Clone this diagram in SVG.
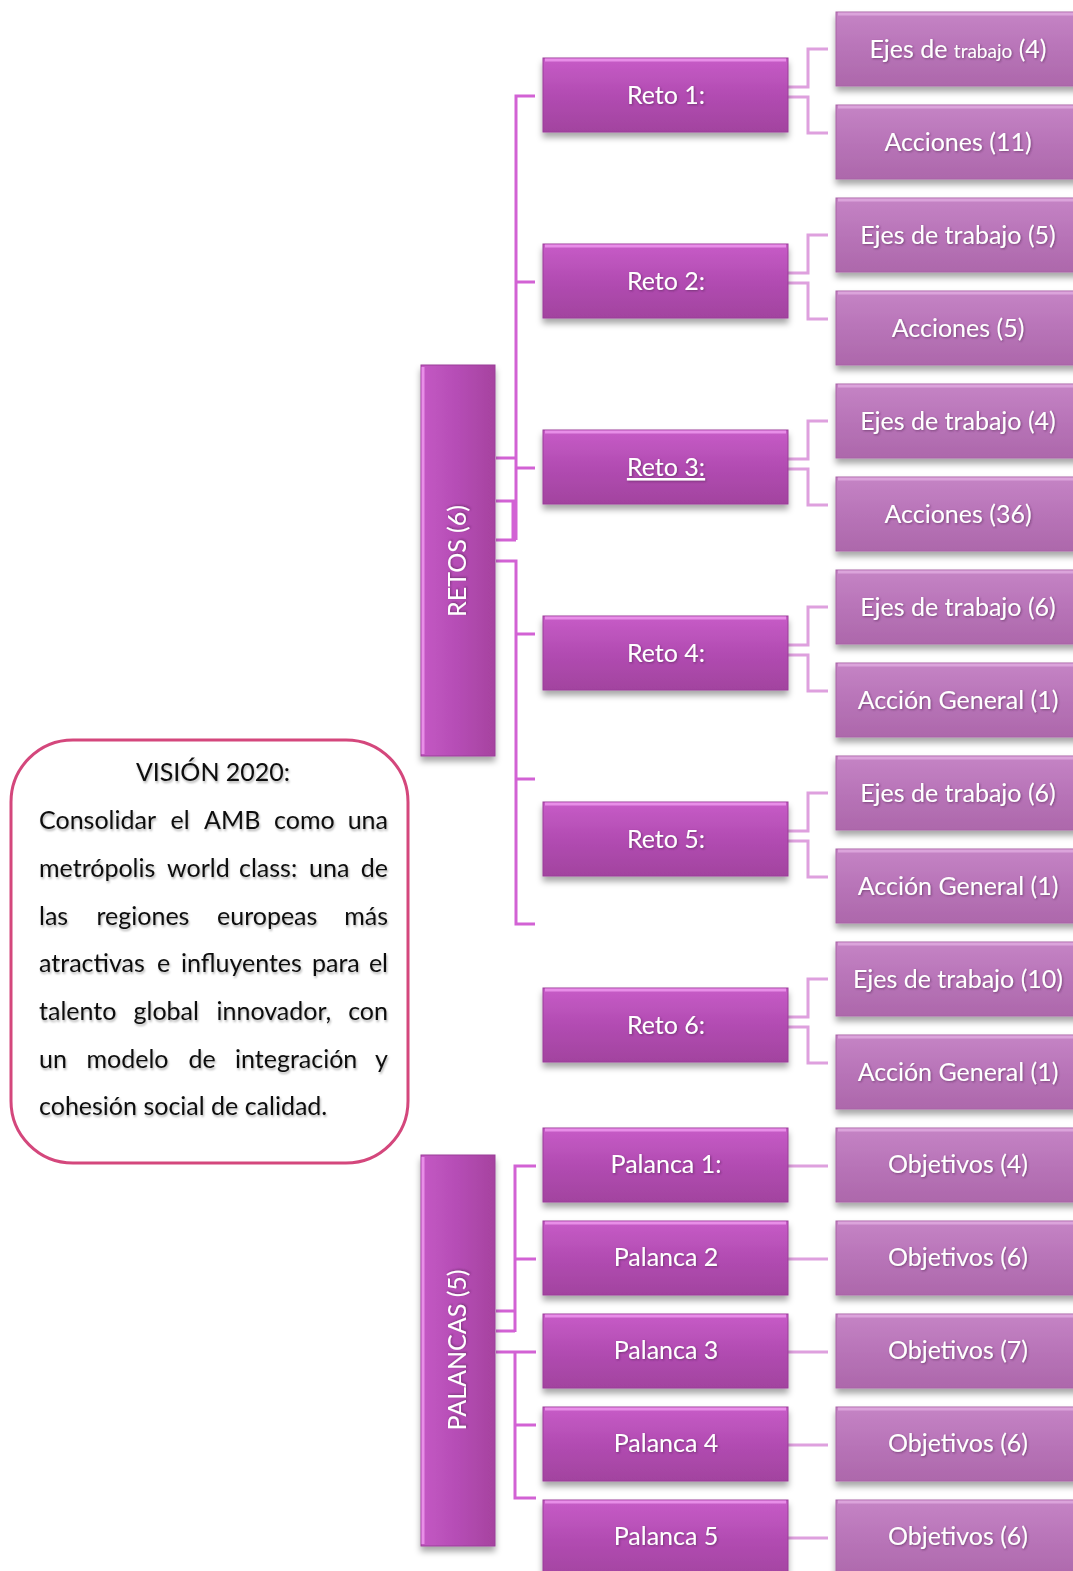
<svg xmlns="http://www.w3.org/2000/svg" width="1073" height="1571" viewBox="0 0 1073 1571">
  <defs>
    <linearGradient id="gDark" x1="0" y1="0" x2="0" y2="1">
      <stop offset="0" stop-color="#c75cc7"/>
      <stop offset="0.5" stop-color="#b24cb2"/>
      <stop offset="1" stop-color="#a2439f"/>
    </linearGradient>
    <linearGradient id="gBar" x1="0" y1="0" x2="1" y2="0">
      <stop offset="0" stop-color="#c458c4"/>
      <stop offset="0.5" stop-color="#b54db5"/>
      <stop offset="1" stop-color="#a6429f"/>
    </linearGradient>
    <linearGradient id="gLight" x1="0" y1="0" x2="0" y2="1">
      <stop offset="0" stop-color="#c584c5"/>
      <stop offset="0.5" stop-color="#b874b8"/>
      <stop offset="1" stop-color="#ad68ab"/>
    </linearGradient>
    <filter id="shadow" x="-10%" y="-20%" width="120%" height="150%">
      <feDropShadow dx="0" dy="5" stdDeviation="3" flood-color="#000" flood-opacity="0.35"/>
    </filter>
    <filter id="tshadow" x="-10%" y="-30%" width="120%" height="160%">
      <feDropShadow dx="1" dy="1" stdDeviation="1" flood-color="#4a1a4a" flood-opacity="0.55"/>
    </filter>
    <filter id="bshadow" x="-10%" y="-30%" width="120%" height="160%">
      <feDropShadow dx="1" dy="2" stdDeviation="1.2" flood-color="#000" flood-opacity="0.3"/>
    </filter>
  </defs>
  <style>
    .dark { fill: url(#gDark); stroke: #9a3c98; stroke-width: 1; filter: url(#shadow); }
    .bar { fill: url(#gBar); stroke: #9a3c98; stroke-width: 1; filter: url(#shadow); }
    .light { fill: url(#gLight); stroke: #a862a6; stroke-width: 1; filter: url(#shadow); }
    .hiD { stroke: #e88ee8; stroke-width: 3; fill: none; }
    .hiL { stroke: #dba4db; stroke-width: 3; fill: none; }
    .lbl { font-family: Lato, "Open Sans", "Liberation Sans", sans-serif; font-size: 25px; fill: #ffffff; text-anchor: middle; filter: url(#tshadow); }
    .vis { font-family: Lato, "Open Sans", "Liberation Sans", sans-serif; font-size: 25px; fill: #111111; filter: url(#bshadow); }
    .cL { stroke: #d262d4; stroke-width: 3; fill: none; }
    .cR { stroke: #dea0de; stroke-width: 3; fill: none; }
  </style>

  <rect width="1073" height="1571" fill="#ffffff"/>

  <!-- connectors -->
  <g id="connectors">
    <!-- RETOS, upper bracket -->
    <path class="cL" d="M535,96 H516 V540 M516,282 H535 M516,468 H535 M496,458 H516 M496,501 H513 V540 M496,540 H516"/>
    <!-- RETOS, lower bracket -->
    <path class="cL" d="M496,561 H516 V924 H535 M516,634 H535 M516,779 H535"/>
    <!-- PALANCAS brackets -->
    <path class="cL" d="M536,1166 H515 V1332 M515,1259 H536 M496,1311 H515 M496,1331 H515"/>
    <path class="cL" d="M496,1352 H536 M515,1352 V1498 H536 M515,1425 H536"/>
    <!-- reto -> ejes / acciones -->
    <path class="cR" d="M788,87 H808 V49 H828 M788,97 H808 V133 H828"/>
    <path class="cR" d="M788,273 H808 V235 H828 M788,283 H808 V319 H828"/>
    <path class="cR" d="M788,459 H808 V421 H828 M788,469 H808 V505 H828"/>
    <path class="cR" d="M788,645 H808 V607 H828 M788,655 H808 V691 H828"/>
    <path class="cR" d="M788,831 H808 V793 H828 M788,841 H808 V877 H828"/>
    <path class="cR" d="M788,1017 H808 V979 H828 M788,1027 H808 V1063 H828"/>
    <!-- palanca -> objetivos -->
    <path class="cR" d="M788,1166 H828 M788,1259 H828 M788,1352 H828 M788,1445 H828 M788,1538 H828"/>
  </g>

  <!-- vision box: justified paragraph, one tspan per word -->
  <g id="vision">
    <rect x="11" y="740" width="397" height="423" rx="62" ry="62" fill="#ffffff" stroke="#d4477c" stroke-width="3"/>
    <text class="vis" x="213" y="781" text-anchor="middle" font-size="23.5">VISIÓN 2020:</text>
    <text class="vis" y="829"><tspan x="39">Consolidar</tspan><tspan x="170.5">el</tspan><tspan x="204">AMB</tspan><tspan x="274">como</tspan><tspan x="388" text-anchor="end">una</tspan></text>
    <text class="vis" y="877"><tspan x="39">metrópolis</tspan><tspan x="167">world</tspan><tspan x="239">class:</tspan><tspan x="309">una</tspan><tspan x="388" text-anchor="end">de</tspan></text>
    <text class="vis" y="925"><tspan x="39">las</tspan><tspan x="96.5">regiones</tspan><tspan x="217">europeas</tspan><tspan x="388" text-anchor="end">más</tspan></text>
    <text class="vis" y="972"><tspan x="39">atractivas</tspan><tspan x="157">e</tspan><tspan x="181">influyentes</tspan><tspan x="312">para</tspan><tspan x="388" text-anchor="end">el</tspan></text>
    <text class="vis" y="1020"><tspan x="39">talento</tspan><tspan x="133.5">global</tspan><tspan x="216.5">innovador,</tspan><tspan x="388" text-anchor="end">con</tspan></text>
    <text class="vis" y="1068"><tspan x="39">un</tspan><tspan x="86.5">modelo</tspan><tspan x="188.5">de</tspan><tspan x="235">integración</tspan><tspan x="388" text-anchor="end">y</tspan></text>
    <text class="vis" x="39" y="1115">cohesión social de calidad.</text>
  </g>

  <!-- vertical bars -->
  <g id="retos">
    <rect class="bar" x="421" y="365" width="74" height="391"/>
    <path class="hiD" d="M423,367 V754" stroke-width="2"/>
    <text class="lbl" transform="translate(466,561) rotate(-90)">RETOS (6)</text>
  </g>
  <g id="palancas">
    <rect class="bar" x="421" y="1155" width="74" height="391"/>
    <path class="hiD" d="M423,1157 V1544" stroke-width="2"/>
    <text class="lbl" transform="translate(466,1350) rotate(-90)">PALANCAS (5)</text>
  </g>

  <!-- retos -->
  <g id="reto1"><rect class="dark" x="543" y="58" width="245" height="74"/><path class="hiD" d="M545,60 H786"/><text class="lbl" x="666" y="104">Reto 1:</text></g>
  <g id="reto2"><rect class="dark" x="543" y="244" width="245" height="74"/><path class="hiD" d="M545,246 H786"/><text class="lbl" x="666" y="290">Reto 2:</text></g>
  <g id="reto3"><rect class="dark" x="543" y="430" width="245" height="74"/><path class="hiD" d="M545,432 H786"/><text class="lbl" x="666" y="476" text-decoration="underline">Reto 3:</text></g>
  <g id="reto4"><rect class="dark" x="543" y="616" width="245" height="74"/><path class="hiD" d="M545,618 H786"/><text class="lbl" x="666" y="662">Reto 4:</text></g>
  <g id="reto5"><rect class="dark" x="543" y="802" width="245" height="74"/><path class="hiD" d="M545,804 H786"/><text class="lbl" x="666" y="848">Reto 5:</text></g>
  <g id="reto6"><rect class="dark" x="543" y="988" width="245" height="74"/><path class="hiD" d="M545,990 H786"/><text class="lbl" x="666" y="1034">Reto 6:</text></g>

  <!-- palancas -->
  <g id="palanca1"><rect class="dark" x="543" y="1128" width="245" height="74"/><path class="hiD" d="M545,1130 H786"/><text class="lbl" x="666" y="1173">Palanca 1:</text></g>
  <g id="palanca2"><rect class="dark" x="543" y="1221" width="245" height="74"/><path class="hiD" d="M545,1223 H786"/><text class="lbl" x="666" y="1266">Palanca 2</text></g>
  <g id="palanca3"><rect class="dark" x="543" y="1314" width="245" height="74"/><path class="hiD" d="M545,1316 H786"/><text class="lbl" x="666" y="1359">Palanca 3</text></g>
  <g id="palanca4"><rect class="dark" x="543" y="1407" width="245" height="74"/><path class="hiD" d="M545,1409 H786"/><text class="lbl" x="666" y="1452">Palanca 4</text></g>
  <g id="palanca5"><rect class="dark" x="543" y="1500" width="245" height="80"/><path class="hiD" d="M545,1502 H786"/><text class="lbl" x="666" y="1545">Palanca 5</text></g>

  <!-- ejes / acciones -->
  <g id="ejes1"><rect class="light" x="836" y="12" width="245" height="74"/><path class="hiL" d="M838,14 H1079"/><text class="lbl" x="958" y="58">Ejes de <tspan font-size="19">trabajo</tspan> (4)</text></g>
  <g id="acc1"><rect class="light" x="836" y="105" width="245" height="74"/><path class="hiL" d="M838,107 H1079"/><text class="lbl" x="958" y="151">Acciones (11)</text></g>
  <g id="ejes2"><rect class="light" x="836" y="198" width="245" height="74"/><path class="hiL" d="M838,200 H1079"/><text class="lbl" x="958" y="244">Ejes de trabajo (5)</text></g>
  <g id="acc2"><rect class="light" x="836" y="291" width="245" height="74"/><path class="hiL" d="M838,293 H1079"/><text class="lbl" x="958" y="337">Acciones (5)</text></g>
  <g id="ejes3"><rect class="light" x="836" y="384" width="245" height="74"/><path class="hiL" d="M838,386 H1079"/><text class="lbl" x="958" y="430">Ejes de trabajo (4)</text></g>
  <g id="acc3"><rect class="light" x="836" y="477" width="245" height="74"/><path class="hiL" d="M838,479 H1079"/><text class="lbl" x="958" y="523">Acciones (36)</text></g>
  <g id="ejes4"><rect class="light" x="836" y="570" width="245" height="74"/><path class="hiL" d="M838,572 H1079"/><text class="lbl" x="958" y="616">Ejes de trabajo (6)</text></g>
  <g id="acc4"><rect class="light" x="836" y="663" width="245" height="74"/><path class="hiL" d="M838,665 H1079"/><text class="lbl" x="958" y="709">Acción General (1)</text></g>
  <g id="ejes5"><rect class="light" x="836" y="756" width="245" height="74"/><path class="hiL" d="M838,758 H1079"/><text class="lbl" x="958" y="802">Ejes de trabajo (6)</text></g>
  <g id="acc5"><rect class="light" x="836" y="849" width="245" height="74"/><path class="hiL" d="M838,851 H1079"/><text class="lbl" x="958" y="895">Acción General (1)</text></g>
  <g id="ejes6"><rect class="light" x="836" y="942" width="245" height="74"/><path class="hiL" d="M838,944 H1079"/><text class="lbl" x="958" y="988">Ejes de trabajo (10)</text></g>
  <g id="acc6"><rect class="light" x="836" y="1035" width="245" height="74"/><path class="hiL" d="M838,1037 H1079"/><text class="lbl" x="958" y="1081">Acción General (1)</text></g>

  <!-- objetivos -->
  <g id="obj1"><rect class="light" x="836" y="1128" width="245" height="74"/><path class="hiL" d="M838,1130 H1079"/><text class="lbl" x="958" y="1173">Objetivos (4)</text></g>
  <g id="obj2"><rect class="light" x="836" y="1221" width="245" height="74"/><path class="hiL" d="M838,1223 H1079"/><text class="lbl" x="958" y="1266">Objetivos (6)</text></g>
  <g id="obj3"><rect class="light" x="836" y="1314" width="245" height="74"/><path class="hiL" d="M838,1316 H1079"/><text class="lbl" x="958" y="1359">Objetivos (7)</text></g>
  <g id="obj4"><rect class="light" x="836" y="1407" width="245" height="74"/><path class="hiL" d="M838,1409 H1079"/><text class="lbl" x="958" y="1452">Objetivos (6)</text></g>
  <g id="obj5"><rect class="light" x="836" y="1500" width="245" height="80"/><path class="hiL" d="M838,1502 H1079"/><text class="lbl" x="958" y="1545">Objetivos (6)</text></g>
</svg>
